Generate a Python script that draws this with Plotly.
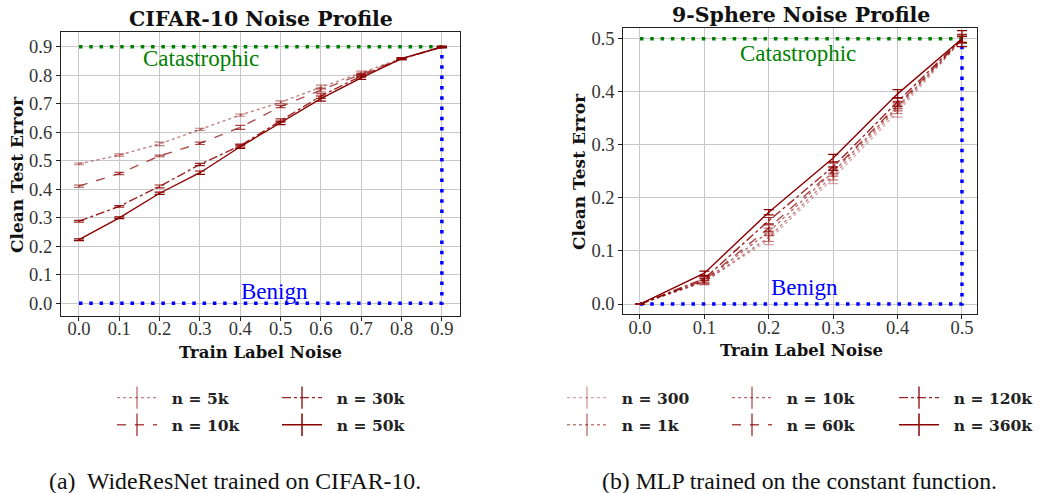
import plotly.graph_objects as go

W, H = 1040, 493

# ---------------- data ----------------
cifar_noise = [0.0, 0.1, 0.2, 0.3, 0.4, 0.5, 0.6, 0.7, 0.8, 0.9]
cifar_labels = ["n = 5k", "n = 10k", "n = 30k", "n = 50k"]
cifar_5k = [0.489, 0.520, 0.559, 0.610, 0.660, 0.705, 0.758, 0.808, 0.859, 0.899]
cifar_10k = [0.411, 0.455, 0.517, 0.561, 0.617, 0.690, 0.748, 0.802, 0.858, 0.899]
cifar_30k = [0.288, 0.340, 0.410, 0.487, 0.553, 0.641, 0.727, 0.797, 0.857, 0.899]
cifar_50k = [0.223, 0.300, 0.386, 0.458, 0.549, 0.633, 0.718, 0.791, 0.858, 0.899]
cifar_5k_err = [0.003, 0.004, 0.006, 0.004, 0.004, 0.005, 0.007, 0.006, 0.003, 0.002]
cifar_10k_err = [0.004, 0.004, 0.003, 0.004, 0.007, 0.004, 0.007, 0.005, 0.003, 0.002]
cifar_30k_err = [0.003, 0.003, 0.005, 0.004, 0.005, 0.006, 0.008, 0.006, 0.003, 0.002]
cifar_50k_err = [0.003, 0.003, 0.004, 0.006, 0.006, 0.006, 0.009, 0.006, 0.003, 0.002]

sphere_noise = [0.0, 0.1, 0.2, 0.3, 0.4, 0.5]
sphere_labels = ["n = 300", "n = 1k", "n = 10k", "n = 60k", "n = 120k", "n = 360k"]
sphere_300 = [0.0, 0.042, 0.121, 0.237, 0.362, 0.498]
sphere_1k = [0.0, 0.042, 0.126, 0.243, 0.368, 0.498]
sphere_10k = [0.0, 0.044, 0.136, 0.249, 0.372, 0.499]
sphere_60k = [0.0, 0.045, 0.143, 0.252, 0.375, 0.499]
sphere_120k = [0.0, 0.048, 0.157, 0.259, 0.381, 0.500]
sphere_360k = [0.0, 0.058, 0.173, 0.275, 0.396, 0.500]
sphere_300_err = [0.0, 0.006, 0.009, 0.010, 0.010, 0.006]
sphere_1k_err = [0.0, 0.005, 0.008, 0.009, 0.009, 0.006]
sphere_10k_err = [0.0, 0.005, 0.007, 0.008, 0.008, 0.006]
sphere_60k_err = [0.0, 0.004, 0.006, 0.007, 0.007, 0.006]
sphere_120k_err = [0.0, 0.004, 0.006, 0.007, 0.008, 0.008]
sphere_360k_err = [0.0, 0.004, 0.005, 0.007, 0.008, 0.015]

cifar_series = [cifar_5k, cifar_10k, cifar_30k, cifar_50k]
cifar_errs = [cifar_5k_err, cifar_10k_err, cifar_30k_err, cifar_50k_err]
cifar_alpha = [0.5, 0.7, 0.85, 1.0]
cifar_dash = ["dot", "dash", "dashdot", "solid"]
cifar_legend = ["legend", "legend", "legend2", "legend2"]

sphere_series = [sphere_300, sphere_1k, sphere_10k, sphere_60k, sphere_120k, sphere_360k]
sphere_errs = [sphere_300_err, sphere_1k_err, sphere_10k_err, sphere_60k_err, sphere_120k_err, sphere_360k_err]
sphere_alpha = [0.35, 0.5, 0.6, 0.72, 0.85, 1.0]
sphere_dash = ["dot", "dot", "dot", "dash", "dashdot", "solid"]
sphere_legend = ["legend3", "legend3", "legend4", "legend4", "legend5", "legend5"]

cifar_max, sphere_max = 0.9, 0.5

BOLD = "DejaVu Serif"
REG = "Liberation Serif"
DOTS = "3.5px,6.8px"


def px(x):
    return x / W


def py(y):
    return 1 - y / H


def red(a):
    return f"rgba(139,0,0,{a})"


fig = go.Figure()

# reference lines (catastrophic / benign)
for xa, ya, m in [("x", "y", cifar_max), ("x2", "y2", sphere_max)]:
    fig.add_trace(go.Scatter(x=[0, m, m], y=[0, 0, m], mode="lines", xaxis=xa, yaxis=ya,
                             line=dict(color="#0000ff", width=3.5, dash=DOTS),
                             showlegend=False, hoverinfo="skip"))
    fig.add_trace(go.Scatter(x=[0, m], y=[m, m], mode="lines", xaxis=xa, yaxis=ya,
                             line=dict(color="#008000", width=3.5, dash=DOTS),
                             showlegend=False, hoverinfo="skip"))


def add_series(xs, ys, err, name, alpha, dash, legend, xa, ya):
    c = red(alpha)
    fig.add_trace(go.Scatter(x=xs, y=ys, mode="lines", xaxis=xa, yaxis=ya, name=name,
                             line=dict(color=c, width=1.4, dash=dash),
                             error_y=dict(type="data", array=err, color=c, thickness=1.2, width=5),
                             showlegend=False))
    # legend entry
    fig.add_trace(go.Scatter(x=[None], y=[None], mode="lines+markers", xaxis=xa, yaxis=ya,
                             name=f"&nbsp;&nbsp;<b>{name}</b>", legend=legend, legendgroup=name,
                             line=dict(color=c, width=1.4, dash=dash),
                             marker=dict(symbol="line-ns-open", size=16, color=c,
                                         line=dict(color=c, width=1.5))))


for s, e, n, a, d, lg in zip(cifar_series, cifar_errs, cifar_labels, cifar_alpha, cifar_dash, cifar_legend):
    add_series(cifar_noise, s, e, n, a, d, lg, "x", "y")
for s, e, n, a, d, lg in zip(sphere_series, sphere_errs, sphere_labels, sphere_alpha, sphere_dash, sphere_legend):
    add_series(sphere_noise, s, e, n, a, d, lg, "x2", "y2")

axis_common = dict(showgrid=True, gridcolor="#c8c8c8", gridwidth=1, zeroline=False,
                   showline=True, linecolor="#222", linewidth=1.2, mirror=True,
                   ticks="outside", ticklen=4, tickcolor="#222", tickformat=".1f",
                   tickfont=dict(family=REG, size=18.5, color="#333"))

fig.update_layout(
    width=W, height=H, margin=dict(l=0, r=0, t=0, b=0),
    plot_bgcolor="white", paper_bgcolor="white",
    xaxis=dict(domain=[px(61), px(460)], range=[-0.0446, 0.945], anchor="y",
               tickvals=cifar_noise, ticklabelstandoff=-8, **axis_common),
    yaxis=dict(domain=[py(316), py(32)], range=[-0.0445, 0.9515], anchor="x",
               tickvals=cifar_noise, **axis_common),
    xaxis2=dict(domain=[px(623.3), px(977.3)], range=[-0.0259, 0.5238], anchor="y2",
                tickvals=sphere_noise, ticklabelstandoff=-8, **axis_common),
    yaxis2=dict(domain=[py(314.3), py(27.7)], range=[-0.0194, 0.5207], anchor="x2",
                tickvals=sphere_noise, **axis_common),
)

leg_common = dict(orientation="v", xanchor="left", yanchor="top", bgcolor="rgba(0,0,0,0)",
                  font=dict(family=BOLD, size=15.5, color="#222"), tracegroupgap=4, itemwidth=40)
leg_top = py(381)
fig.update_layout(
    legend=dict(x=px(112), y=leg_top, **leg_common),
    legend2=dict(x=px(277), y=leg_top, **leg_common),
    legend3=dict(x=px(562), y=leg_top, **leg_common),
    legend4=dict(x=px(727), y=leg_top, **leg_common),
    legend5=dict(x=px(894), y=leg_top, **leg_common),
)

ann = []
# titles
ann.append(dict(text="<b>CIFAR-10 Noise Profile</b>", x=px(261), y=py(19), font=dict(family=BOLD, size=20.5, color="#111")))
ann.append(dict(text="<b>9-Sphere Noise Profile</b>", x=px(801), y=py(15), font=dict(family=BOLD, size=20.5, color="#111")))
# axis titles
for xx, yy in [(260, 352), (801, 350)]:
    ann.append(dict(text="<b>Train Label Noise</b>", x=px(xx), y=py(yy), font=dict(family=BOLD, size=16.5, color="#111")))
for xx, yy in [(17, 175), (579, 172)]:
    ann.append(dict(text="<b>Clean Test Error</b>", x=px(xx), y=py(yy), textangle=-90,
                    font=dict(family=BOLD, size=17, color="#111")))
# captions
ann.append(dict(text="(a)  WideResNet trained on CIFAR-10.", x=px(234.5), y=py(481), font=dict(family=REG, size=23.8, color="#111")))
ann.append(dict(text="(b) MLP trained on the constant function.", x=px(799), y=py(481), font=dict(family=REG, size=23.8, color="#111")))
for a in ann:
    a.update(xref="paper", yref="paper", showarrow=False, xanchor="center", yanchor="middle")

# region labels
for xa, ya, cx, cy, bx, by in [("x", "y", 0.3025, 0.86, 0.486, 0.04), ("x2", "y2", 0.246, 0.473, 0.256, 0.032)]:
    ann.append(dict(text="Catastrophic", x=cx, y=cy, xref=xa, yref=ya, showarrow=False,
                    font=dict(family=REG, size=23, color="#008000")))
    ann.append(dict(text="Benign", x=bx, y=by, xref=xa, yref=ya, showarrow=False,
                    font=dict(family=REG, size=23, color="#0000ff")))

fig.update_layout(annotations=ann)
fig.write_html("out.html")
